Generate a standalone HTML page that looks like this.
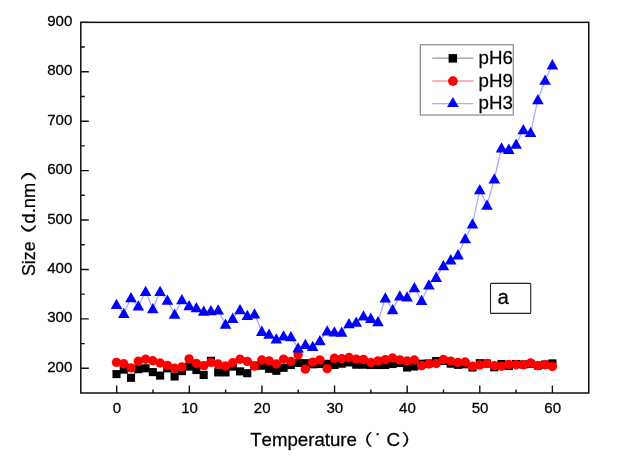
<!DOCTYPE html><html><head><meta charset="utf-8"><title>Size vs Temperature</title>
<style>html,body{margin:0;padding:0;background:#fff}svg{display:block}text{font-kerning:none;stroke:#000;stroke-width:0.25px;font-family:"Liberation Sans","Noto Sans CJK SC",sans-serif;fill:#000}</style></head><body>
<svg width="623" height="465" viewBox="0 0 623 465">
<rect width="623" height="465" fill="#fff"/>
<rect x="80.8" y="22.35" width="507.95" height="370.65" fill="none" stroke="#111" stroke-width="1.5"/>
<path d="M80.8 368.29h8 M80.8 318.87h8 M80.8 269.45h8 M80.8 220.03h8 M80.8 170.61h8 M80.8 121.19h8 M80.8 71.77h8 M80.8 22.35h8 M80.8 343.58h4 M80.8 294.16h4 M80.8 244.74h4 M80.8 195.32h4 M80.8 145.90h4 M80.8 96.48h4 M80.8 47.06h4 M116.70 393.0v-7.5 M189.32 393.0v-7.5 M261.93 393.0v-7.5 M334.55 393.0v-7.5 M407.17 393.0v-7.5 M479.79 393.0v-7.5 M552.40 393.0v-7.5 M153.01 393.0v-3.5 M225.63 393.0v-3.5 M298.24 393.0v-3.5 M370.86 393.0v-3.5 M443.48 393.0v-3.5 M516.09 393.0v-3.5" stroke="#111" stroke-width="1.4" fill="none"/>
<text transform="translate(72.30 371.89) scale(1.04 1)" font-size="14.5" text-anchor="end">200</text>
<text transform="translate(72.30 322.47) scale(1.04 1)" font-size="14.5" text-anchor="end">300</text>
<text transform="translate(72.30 273.05) scale(1.04 1)" font-size="14.5" text-anchor="end">400</text>
<text transform="translate(72.30 223.63) scale(1.04 1)" font-size="14.5" text-anchor="end">500</text>
<text transform="translate(72.30 174.21) scale(1.04 1)" font-size="14.5" text-anchor="end">600</text>
<text transform="translate(72.30 124.79) scale(1.04 1)" font-size="14.5" text-anchor="end">700</text>
<text transform="translate(72.30 75.37) scale(1.04 1)" font-size="14.5" text-anchor="end">800</text>
<text transform="translate(72.30 25.95) scale(1.04 1)" font-size="14.5" text-anchor="end">900</text>
<text transform="translate(117.00 412.50) scale(1.04 1)" font-size="14.5" text-anchor="middle">0</text>
<text transform="translate(189.62 412.50) scale(1.04 1)" font-size="14.5" text-anchor="middle">10</text>
<text transform="translate(262.23 412.50) scale(1.04 1)" font-size="14.5" text-anchor="middle">20</text>
<text transform="translate(334.85 412.50) scale(1.04 1)" font-size="14.5" text-anchor="middle">30</text>
<text transform="translate(407.47 412.50) scale(1.04 1)" font-size="14.5" text-anchor="middle">40</text>
<text transform="translate(480.09 412.50) scale(1.04 1)" font-size="14.5" text-anchor="middle">50</text>
<text transform="translate(552.70 412.50) scale(1.04 1)" font-size="14.5" text-anchor="middle">60</text>
<text transform="translate(250.20 445.80) scale(1.03 1)" font-size="18.1" text-anchor="start">Temperature</text>
<text transform="translate(372.6 445) scale(1.35 1)" font-size="15.5" text-anchor="end" fill="#50556a" stroke="none">（</text>
<text x="378.6" y="448" font-size="20" text-anchor="middle" fill="#556" stroke="none">˙</text>
<text transform="translate(386.60 445.80) scale(1.04 1)" font-size="18.1" text-anchor="start">C</text>
<text transform="translate(401.8 445) scale(1.35 1)" font-size="15.5" fill="#50556a" stroke="none">）</text>
<text transform="translate(34.9 276) rotate(-90) scale(1 1.05)" font-size="17.8">Size</text>
<text transform="translate(33.6 224) rotate(-90) scale(1.6 1)" font-size="15.5" text-anchor="end" fill="#50556a" stroke="none">（</text>
<text transform="translate(34.8 223.4) rotate(-90) scale(1 1.05)" font-size="18.2">d.nm</text>
<text transform="translate(33.6 180.6) rotate(-90) scale(1.6 1)" font-size="15.5" fill="#50556a" stroke="none">）</text>
<polyline points="116.5,374.1 123.8,369.6 131.0,377.8 138.3,369.2 145.6,368.3 152.8,372.1 160.1,375.6 167.4,368.3 174.6,376.5 181.9,371.1 189.1,366.6 196.4,370.0 203.7,375.0 210.9,360.8 218.2,372.4 225.5,372.4 232.7,366.6 240.0,371.4 247.3,373.2 254.5,365.5 261.8,365.7 269.1,368.8 276.3,370.8 283.6,367.8 290.9,365.0 298.1,362.9 305.4,363.2 312.7,364.3 319.9,364.0 327.2,363.8 334.4,365.0 341.7,363.7 349.0,362.4 356.2,364.7 363.5,364.7 370.8,365.0 378.0,365.0 385.3,365.0 392.6,364.0 399.8,363.0 407.1,367.5 414.4,366.5 421.6,363.7 428.9,363.4 436.2,361.1 443.4,361.0 450.7,363.7 458.0,364.8 465.2,364.3 472.5,367.5 479.8,363.2 487.0,363.5 494.3,367.3 501.5,364.0 508.8,366.0 516.1,364.0 523.3,364.5 530.6,364.0 537.9,365.6 545.1,364.5 552.4,363.4" fill="none" stroke="#000" stroke-opacity="0.4" stroke-width="1.1"/>
<g fill="#000"><rect x="112.45" y="370.05" width="8.1" height="8.1"/><rect x="119.72" y="365.55" width="8.1" height="8.1"/><rect x="126.98" y="373.75" width="8.1" height="8.1"/><rect x="134.24" y="365.15" width="8.1" height="8.1"/><rect x="141.51" y="364.25" width="8.1" height="8.1"/><rect x="148.77" y="368.05" width="8.1" height="8.1"/><rect x="156.04" y="371.55" width="8.1" height="8.1"/><rect x="163.30" y="364.25" width="8.1" height="8.1"/><rect x="170.57" y="372.45" width="8.1" height="8.1"/><rect x="177.83" y="367.05" width="8.1" height="8.1"/><rect x="185.10" y="362.55" width="8.1" height="8.1"/><rect x="192.36" y="365.95" width="8.1" height="8.1"/><rect x="199.63" y="370.95" width="8.1" height="8.1"/><rect x="206.89" y="356.75" width="8.1" height="8.1"/><rect x="214.16" y="368.35" width="8.1" height="8.1"/><rect x="221.42" y="368.35" width="8.1" height="8.1"/><rect x="228.69" y="362.55" width="8.1" height="8.1"/><rect x="235.95" y="367.35" width="8.1" height="8.1"/><rect x="243.22" y="369.15" width="8.1" height="8.1"/><rect x="250.48" y="361.45" width="8.1" height="8.1"/><rect x="257.75" y="361.65" width="8.1" height="8.1"/><rect x="265.01" y="364.75" width="8.1" height="8.1"/><rect x="272.28" y="366.75" width="8.1" height="8.1"/><rect x="279.55" y="363.75" width="8.1" height="8.1"/><rect x="286.81" y="360.95" width="8.1" height="8.1"/><rect x="294.07" y="358.85" width="8.1" height="8.1"/><rect x="301.34" y="359.15" width="8.1" height="8.1"/><rect x="308.60" y="360.25" width="8.1" height="8.1"/><rect x="315.87" y="359.95" width="8.1" height="8.1"/><rect x="323.13" y="359.75" width="8.1" height="8.1"/><rect x="330.40" y="360.95" width="8.1" height="8.1"/><rect x="337.67" y="359.65" width="8.1" height="8.1"/><rect x="344.93" y="358.35" width="8.1" height="8.1"/><rect x="352.19" y="360.65" width="8.1" height="8.1"/><rect x="359.46" y="360.65" width="8.1" height="8.1"/><rect x="366.72" y="360.95" width="8.1" height="8.1"/><rect x="373.99" y="360.95" width="8.1" height="8.1"/><rect x="381.25" y="360.95" width="8.1" height="8.1"/><rect x="388.52" y="359.95" width="8.1" height="8.1"/><rect x="395.78" y="358.95" width="8.1" height="8.1"/><rect x="403.05" y="363.45" width="8.1" height="8.1"/><rect x="410.31" y="362.45" width="8.1" height="8.1"/><rect x="417.58" y="359.65" width="8.1" height="8.1"/><rect x="424.84" y="359.35" width="8.1" height="8.1"/><rect x="432.11" y="357.05" width="8.1" height="8.1"/><rect x="439.38" y="356.95" width="8.1" height="8.1"/><rect x="446.64" y="359.65" width="8.1" height="8.1"/><rect x="453.90" y="360.75" width="8.1" height="8.1"/><rect x="461.17" y="360.25" width="8.1" height="8.1"/><rect x="468.43" y="363.45" width="8.1" height="8.1"/><rect x="475.70" y="359.15" width="8.1" height="8.1"/><rect x="482.96" y="359.45" width="8.1" height="8.1"/><rect x="490.23" y="363.25" width="8.1" height="8.1"/><rect x="497.49" y="359.95" width="8.1" height="8.1"/><rect x="504.76" y="361.95" width="8.1" height="8.1"/><rect x="512.03" y="359.95" width="8.1" height="8.1"/><rect x="519.29" y="360.45" width="8.1" height="8.1"/><rect x="526.56" y="359.95" width="8.1" height="8.1"/><rect x="533.82" y="361.55" width="8.1" height="8.1"/><rect x="541.09" y="360.45" width="8.1" height="8.1"/><rect x="548.35" y="359.35" width="8.1" height="8.1"/></g>
<polyline points="116.5,362.2 123.8,363.6 131.0,367.7 138.3,361.0 145.6,359.1 152.8,360.6 160.1,362.8 167.4,365.2 174.6,368.1 181.9,366.7 189.1,358.7 196.4,363.2 203.7,365.5 210.9,362.2 218.2,363.9 225.5,365.8 232.7,362.6 240.0,359.1 247.3,361.2 254.5,366.0 261.8,359.9 269.1,360.7 276.3,363.8 283.6,359.0 290.9,361.2 298.1,354.5 305.4,369.0 312.7,362.0 319.9,359.7 327.2,368.5 334.4,358.1 341.7,358.6 349.0,357.4 356.2,359.0 363.5,359.4 370.8,362.3 378.0,360.7 385.3,359.5 392.6,357.9 399.8,359.7 407.1,360.7 414.4,359.9 421.6,365.5 428.9,363.8 436.2,363.3 443.4,359.4 450.7,361.0 458.0,362.3 465.2,361.8 472.5,366.1 479.8,364.8 487.0,363.3 494.3,365.5 501.5,366.1 508.8,364.2 516.1,364.6 523.3,364.6 530.6,362.9 537.9,365.5 545.1,364.6 552.4,366.4" fill="none" stroke="#f00" stroke-opacity="0.4" stroke-width="1.1"/>
<g fill="#f00"><circle cx="116.5" cy="362.35" r="4.7"/><circle cx="123.8" cy="363.75" r="4.7"/><circle cx="131.0" cy="367.85" r="4.7"/><circle cx="138.3" cy="361.15" r="4.7"/><circle cx="145.6" cy="359.25" r="4.7"/><circle cx="152.8" cy="360.75" r="4.7"/><circle cx="160.1" cy="362.95" r="4.7"/><circle cx="167.4" cy="365.35" r="4.7"/><circle cx="174.6" cy="368.25" r="4.7"/><circle cx="181.9" cy="366.85" r="4.7"/><circle cx="189.1" cy="358.85" r="4.7"/><circle cx="196.4" cy="363.35" r="4.7"/><circle cx="203.7" cy="365.65" r="4.7"/><circle cx="210.9" cy="362.35" r="4.7"/><circle cx="218.2" cy="364.05" r="4.7"/><circle cx="225.5" cy="365.95" r="4.7"/><circle cx="232.7" cy="362.75" r="4.7"/><circle cx="240.0" cy="359.25" r="4.7"/><circle cx="247.3" cy="361.35" r="4.7"/><circle cx="254.5" cy="366.15" r="4.7"/><circle cx="261.8" cy="360.05" r="4.7"/><circle cx="269.1" cy="360.85" r="4.7"/><circle cx="276.3" cy="363.95" r="4.7"/><circle cx="283.6" cy="359.15" r="4.7"/><circle cx="290.9" cy="361.35" r="4.7"/><circle cx="298.1" cy="354.65" r="4.7"/><circle cx="305.4" cy="369.15" r="4.7"/><circle cx="312.7" cy="362.15" r="4.7"/><circle cx="319.9" cy="359.85" r="4.7"/><circle cx="327.2" cy="368.65" r="4.7"/><circle cx="334.4" cy="358.25" r="4.7"/><circle cx="341.7" cy="358.75" r="4.7"/><circle cx="349.0" cy="357.55" r="4.7"/><circle cx="356.2" cy="359.15" r="4.7"/><circle cx="363.5" cy="359.55" r="4.7"/><circle cx="370.8" cy="362.45" r="4.7"/><circle cx="378.0" cy="360.85" r="4.7"/><circle cx="385.3" cy="359.65" r="4.7"/><circle cx="392.6" cy="358.05" r="4.7"/><circle cx="399.8" cy="359.85" r="4.7"/><circle cx="407.1" cy="360.85" r="4.7"/><circle cx="414.4" cy="360.05" r="4.7"/><circle cx="421.6" cy="365.65" r="4.7"/><circle cx="428.9" cy="363.95" r="4.7"/><circle cx="436.2" cy="363.45" r="4.7"/><circle cx="443.4" cy="359.55" r="4.7"/><circle cx="450.7" cy="361.15" r="4.7"/><circle cx="458.0" cy="362.45" r="4.7"/><circle cx="465.2" cy="361.95" r="4.7"/><circle cx="472.5" cy="366.25" r="4.7"/><circle cx="479.8" cy="364.95" r="4.7"/><circle cx="487.0" cy="363.45" r="4.7"/><circle cx="494.3" cy="365.65" r="4.7"/><circle cx="501.5" cy="366.25" r="4.7"/><circle cx="508.8" cy="364.35" r="4.7"/><circle cx="516.1" cy="364.75" r="4.7"/><circle cx="523.3" cy="364.75" r="4.7"/><circle cx="530.6" cy="363.05" r="4.7"/><circle cx="537.9" cy="365.65" r="4.7"/><circle cx="545.1" cy="364.75" r="4.7"/><circle cx="552.4" cy="366.55" r="4.7"/></g>
<polyline points="116.5,304.5 123.8,313.6 131.0,297.8 138.3,306.1 145.6,291.5 152.8,308.8 160.1,291.5 167.4,300.3 174.6,314.2 181.9,299.8 189.1,305.8 196.4,307.8 203.7,311.2 210.9,310.7 218.2,310.1 225.5,324.2 232.7,318.4 240.0,309.7 247.3,315.5 254.5,314.1 261.8,331.4 269.1,334.3 276.3,339.1 283.6,336.0 290.9,336.8 298.1,348.0 305.4,344.5 312.7,346.5 319.9,340.7 327.2,331.0 334.4,332.0 341.7,332.3 349.0,323.8 356.2,322.3 363.5,316.1 370.8,318.4 378.0,321.7 385.3,298.1 392.6,309.7 399.8,296.1 407.1,297.1 414.4,287.8 421.6,300.6 428.9,285.1 436.2,277.4 443.4,265.8 450.7,259.9 458.0,254.9 465.2,238.7 472.5,224.1 479.8,189.7 487.0,205.2 494.3,179.0 501.5,148.1 508.8,149.4 516.1,144.3 523.3,129.8 530.6,132.6 537.9,99.7 545.1,80.3 552.4,64.9" fill="none" stroke="#00f" stroke-opacity="0.33" stroke-width="1.3"/>
<g fill="#00f"><path d="M116.5 298.7l5.8 10.3h-11.6z"/><path d="M123.8 307.8l5.8 10.3h-11.6z"/><path d="M131.0 292.0l5.8 10.3h-11.6z"/><path d="M138.3 300.3l5.8 10.3h-11.6z"/><path d="M145.6 285.7l5.8 10.3h-11.6z"/><path d="M152.8 303.0l5.8 10.3h-11.6z"/><path d="M160.1 285.7l5.8 10.3h-11.6z"/><path d="M167.4 294.5l5.8 10.3h-11.6z"/><path d="M174.6 308.4l5.8 10.3h-11.6z"/><path d="M181.9 294.0l5.8 10.3h-11.6z"/><path d="M189.1 300.0l5.8 10.3h-11.6z"/><path d="M196.4 302.0l5.8 10.3h-11.6z"/><path d="M203.7 305.4l5.8 10.3h-11.6z"/><path d="M210.9 304.9l5.8 10.3h-11.6z"/><path d="M218.2 304.3l5.8 10.3h-11.6z"/><path d="M225.5 318.4l5.8 10.3h-11.6z"/><path d="M232.7 312.6l5.8 10.3h-11.6z"/><path d="M240.0 303.9l5.8 10.3h-11.6z"/><path d="M247.3 309.7l5.8 10.3h-11.6z"/><path d="M254.5 308.3l5.8 10.3h-11.6z"/><path d="M261.8 325.6l5.8 10.3h-11.6z"/><path d="M269.1 328.5l5.8 10.3h-11.6z"/><path d="M276.3 333.3l5.8 10.3h-11.6z"/><path d="M283.6 330.2l5.8 10.3h-11.6z"/><path d="M290.9 331.0l5.8 10.3h-11.6z"/><path d="M298.1 342.2l5.8 10.3h-11.6z"/><path d="M305.4 338.7l5.8 10.3h-11.6z"/><path d="M312.7 340.7l5.8 10.3h-11.6z"/><path d="M319.9 334.9l5.8 10.3h-11.6z"/><path d="M327.2 325.2l5.8 10.3h-11.6z"/><path d="M334.4 326.2l5.8 10.3h-11.6z"/><path d="M341.7 326.5l5.8 10.3h-11.6z"/><path d="M349.0 318.0l5.8 10.3h-11.6z"/><path d="M356.2 316.5l5.8 10.3h-11.6z"/><path d="M363.5 310.3l5.8 10.3h-11.6z"/><path d="M370.8 312.6l5.8 10.3h-11.6z"/><path d="M378.0 315.9l5.8 10.3h-11.6z"/><path d="M385.3 292.3l5.8 10.3h-11.6z"/><path d="M392.6 303.9l5.8 10.3h-11.6z"/><path d="M399.8 290.3l5.8 10.3h-11.6z"/><path d="M407.1 291.3l5.8 10.3h-11.6z"/><path d="M414.4 282.0l5.8 10.3h-11.6z"/><path d="M421.6 294.8l5.8 10.3h-11.6z"/><path d="M428.9 279.3l5.8 10.3h-11.6z"/><path d="M436.2 271.6l5.8 10.3h-11.6z"/><path d="M443.4 260.0l5.8 10.3h-11.6z"/><path d="M450.7 254.1l5.8 10.3h-11.6z"/><path d="M458.0 249.1l5.8 10.3h-11.6z"/><path d="M465.2 232.9l5.8 10.3h-11.6z"/><path d="M472.5 218.3l5.8 10.3h-11.6z"/><path d="M479.8 183.9l5.8 10.3h-11.6z"/><path d="M487.0 199.4l5.8 10.3h-11.6z"/><path d="M494.3 173.2l5.8 10.3h-11.6z"/><path d="M501.5 142.3l5.8 10.3h-11.6z"/><path d="M508.8 143.6l5.8 10.3h-11.6z"/><path d="M516.1 138.5l5.8 10.3h-11.6z"/><path d="M523.3 124.0l5.8 10.3h-11.6z"/><path d="M530.6 126.8l5.8 10.3h-11.6z"/><path d="M537.9 93.9l5.8 10.3h-11.6z"/><path d="M545.1 74.5l5.8 10.3h-11.6z"/><path d="M552.4 59.1l5.8 10.3h-11.6z"/></g>
<rect x="420.3" y="44.8" width="93" height="70.2" fill="#fff" stroke="#909090" stroke-width="1.3"/>
<path d="M432.3 58.2H473.5" stroke="#000" stroke-opacity="0.4" stroke-width="1.3" fill="none"/>
<path d="M432.3 81H473.5" stroke="#f00" stroke-opacity="0.4" stroke-width="1.3" fill="none"/>
<path d="M432.3 103.7H473.5" stroke="#00f" stroke-opacity="0.33" stroke-width="1.3" fill="none"/>
<rect x="448.6" y="54.1" width="8.5" height="8.5" fill="#000"/>
<circle cx="452.9" cy="81.1" r="4.9" fill="#f00"/>
<path d="M452.9 96.9l5.85 10.2h-11.7z" fill="#00f"/>
<text transform="translate(478.60 63.70) scale(1.04 1)" font-size="18" text-anchor="start">pH6</text>
<text transform="translate(478.60 86.50) scale(1.04 1)" font-size="18" text-anchor="start">pH9</text>
<text transform="translate(478.60 109.20) scale(1.04 1)" font-size="18" text-anchor="start">pH3</text>
<rect x="490.5" y="283.4" width="40.2" height="30" rx="1" fill="#fff" stroke="#222" stroke-width="1.1"/>
<text transform="translate(497.60 304.00) scale(1.04 1)" font-size="19.6" text-anchor="start">a</text>
</svg></body></html>
